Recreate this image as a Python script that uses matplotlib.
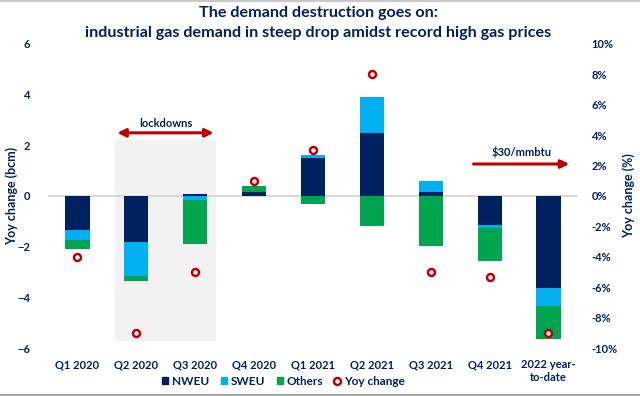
import numpy as np
import matplotlib.pyplot as plt
from matplotlib.patches import Patch, Rectangle
from matplotlib.lines import Line2D

# data (bcm, yoy %)
categories = ["Q1 2020", "Q2 2020", "Q3 2020", "Q4 2020", "Q1 2021",
              "Q2 2021", "Q3 2021", "Q4 2021", "2022 year-\nto-date"]
nweu = [-1.35, -1.81, 0.07, 0.17, 1.50, 2.49, 0.17, -1.13, -3.62]
sweu = [-0.40, -1.36, -0.17, 0.00, 0.12, 1.42, 0.41, -0.12, -0.71]
others = [-0.35, -0.18, -1.71, 0.23, -0.33, -1.20, -1.99, -1.30, -1.30]
yoy = [-4.0, -9.0, -5.0, 1.0, 3.0, 8.0, -5.0, -5.3, -9.0]

NAVY = "#002060"
SKY = "#00B0F0"
GREEN = "#00A550"
RED = "#C00000"

plt.rcParams['font.family'] = ['Lato', 'DejaVu Sans']
plt.rcParams['font.weight'] = 'bold'
plt.rcParams['axes.labelweight'] = 'bold'

fig = plt.figure(figsize=(6.4, 3.96), dpi=100)
ax = fig.add_axes([0.075, 0.1212, 0.828, 0.768])
ax2 = ax.twinx()

x = np.arange(len(categories))
w = 0.41

# stack positives up and negatives down
pos = np.zeros(len(x))
neg = np.zeros(len(x))
for vals, col in [(nweu, NAVY), (sweu, SKY), (others, GREEN)]:
    vals = np.array(vals)
    bottoms = np.where(vals >= 0, pos, neg)
    ax.bar(x, vals, w, bottom=bottoms, color=col, zorder=3)
    pos = pos + np.clip(vals, 0, None)
    neg = neg + np.clip(vals, None, 0)

ax.axhline(0, color="#D9D9D9", lw=1.5, zorder=1)

# lockdown shading
ax.add_patch(Rectangle((0.64, -5.73), 1.71, 7.93, color="#F2F2F2", zorder=0, lw=0))
ax.annotate("", xy=(2.36, 2.49), xytext=(0.63, 2.49),
            arrowprops=dict(arrowstyle="<|-|>", color=RED, lw=2.2, mutation_scale=12))
ax.text(1.5, 2.87, "lockdowns", ha="center", va="center", fontsize=8, color=NAVY)

ax.annotate("", xy=(8.4, 1.26), xytext=(6.68, 1.26),
            arrowprops=dict(arrowstyle="-|>", color=RED, lw=2.2, mutation_scale=12))
ax.text(7.55, 1.74, "$30/mmbtu", ha="center", va="center", fontsize=8, color=NAVY)

ax2.plot(x, yoy, "o", ms=5, mfc="white", mec=RED, mew=1.8, zorder=5)

ax.set_xlim(-0.5, 8.5)
ax.set_ylim(-6, 6)
ax2.set_ylim(-10, 10)
ax.set_yticks(range(-6, 7, 2))
ax2.set_yticks(range(-10, 11, 2))
ax2.set_yticklabels([f"{v}%" for v in range(-10, 11, 2)])
ax.set_xticks(x)
ax.set_xticklabels(categories, fontsize=8, color=NAVY)
# yoy markers drawn on top of the bars
ax2.set_zorder(ax.get_zorder() + 1)
ax2.patch.set_visible(False)

for a in (ax, ax2):
    for s in a.spines.values():
        s.set_visible(False)
    a.tick_params(length=0, labelsize=8, labelcolor=NAVY)
ax.tick_params(axis="y", pad=13)
ax2.tick_params(axis="y", pad=10)
ax.tick_params(axis="x", pad=8)

ax.set_ylabel("Yoy change (bcm)", fontsize=9, color=NAVY)
ax2.set_ylabel("Yoy change (%)", fontsize=9, color=NAVY)
ax.yaxis.set_label_coords(-0.057, 0.5)
ax2.yaxis.set_label_coords(1.083, 0.5)

fig.text(0.497, 0.967, "The demand destruction goes on:", ha="center", va="center",
         fontsize=11.6, color=NAVY)
fig.text(0.497, 0.917, "industrial gas demand in steep drop amidst record high gas prices",
         ha="center", va="center", fontsize=11.6, color=NAVY)

handles = [Patch(color=NAVY), Patch(color=SKY), Patch(color=GREEN),
           Line2D([], [], ls="", marker="o", ms=5, mfc="white", mec=RED, mew=1.8)]
leg = fig.legend(handles, ["NWEU", "SWEU", "Others", "Yoy change"], loc="center",
                 bbox_to_anchor=(0.443, 0.037), ncol=4, frameon=False, fontsize=8.5,
                 handlelength=0.5, handleheight=0.5, handletextpad=0.3, columnspacing=1.0)
for t in leg.get_texts():
    t.set_color(NAVY)

# thin grey rules at top and bottom of the picture
fig.add_artist(Line2D([0, 1], [0.997, 0.997], color="#BFBFBF", lw=1.2))
fig.add_artist(Line2D([0, 1], [0.003, 0.003], color="#A6A6A6", lw=1.5))

fig.savefig("out.png", dpi=100)
